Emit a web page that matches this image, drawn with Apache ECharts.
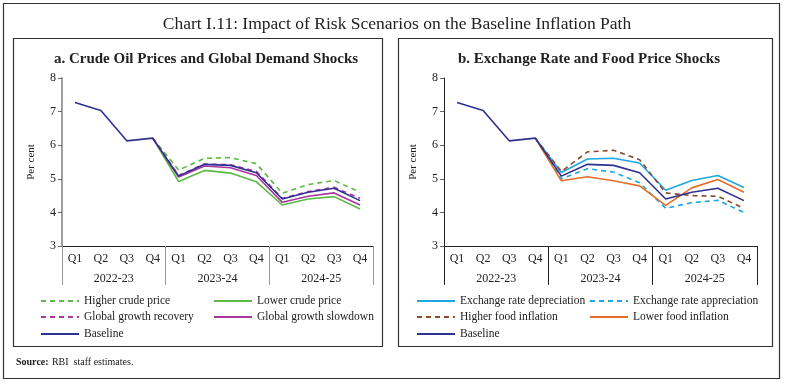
<!DOCTYPE html>
<html><head><meta charset="utf-8">
<script src="https://cdn.jsdelivr.net/npm/echarts@6/dist/echarts.min.js"></script>
<style>html,body{margin:0;padding:0;background:#fff}#c{width:785px;height:385px}</style>
</head><body><div id="c"></div>
<script>
var quarters = ['Q1','Q2','Q3','Q4','Q1','Q2','Q3','Q4','Q1','Q2','Q3','Q4'];
var years = ['2022-23','2023-24','2024-25'];
var yTicks = [3,4,5,6,7,8];

var baseline = [7.27,7.03,6.13,6.21,5.08,5.43,5.40,5.18,4.40,4.60,4.72,4.35];
// Panel a
var higherCrude = [null,null,null,6.21,5.26,5.61,5.63,5.45,4.57,4.83,4.95,4.60];
var lowerCrude = [null,null,null,6.21,4.92,5.25,5.17,4.91,4.22,4.40,4.47,4.10];
var growthRecovery = [null,null,null,6.21,5.10,5.44,5.42,5.22,4.42,4.62,4.75,4.42];
var growthSlowdown = [null,null,null,6.21,5.05,5.38,5.33,5.10,4.30,4.48,4.58,4.22];
// Panel b
var exDepreciation = [null,null,null,6.21,5.19,5.59,5.61,5.47,4.66,4.95,5.10,4.74];
var exAppreciation = [null,null,null,6.21,5.00,5.30,5.20,4.88,4.12,4.29,4.36,4.00];
var higherFood = [null,null,null,6.21,5.22,5.80,5.85,5.57,4.58,4.50,4.48,4.12];
var lowerFood = [null,null,null,6.21,4.94,5.06,4.94,4.79,4.21,4.73,4.98,4.60];

var FONT = 'Liberation Serif';
var C = {base:'#2e3192', green:'#5cb946', mag:'#a8369c', blue:'#1ea6e0', brown:'#8a4b2a', orange:'#e2702a'};

function ser(name, data, color, dashed, idx){
  return {name:name, type:'line', data:data, xAxisIndex:idx*2, yAxisIndex:idx,
    symbol:'none', connectNulls:false, animation:false,
    lineStyle:{color:color, width:1.6, type: dashed?[5,4]:'solid'},
    itemStyle:{color:color}};
}
function xAxes(gridIdx, lineColor){
  return [
    {type:'category', gridIndex:gridIdx, data:quarters, boundaryGap:true,
     axisLine:{lineStyle:{color:'#222', width:1}},
     axisTick:{inside:true, length:4, lineStyle:{color:'#888'}},
     axisLabel:{fontFamily:FONT, fontSize:12, color:'#222', margin:7}},
    {type:'category', gridIndex:gridIdx, data:years, position:'bottom', boundaryGap:true,
     axisLine:{show:false},
     axisTick:{show:true, length:39, lineStyle:{color:lineColor, width:1}},
     axisLabel:{fontFamily:FONT, fontSize:12, color:'#222', margin:27}}
  ];
}
function yAxis(gridIdx, lineColor, lineWidth){
  return {type:'value', gridIndex:gridIdx, min:3, max:8, interval:1,
    splitLine:{show:false},
    axisLine:{show:true, lineStyle:{color:lineColor, width:lineWidth}},
    axisTick:{show:true, length:4, lineStyle:{color:'#666'}},
    axisLabel:{fontFamily:FONT, fontSize:12, color:'#222', margin:6,
      formatter:function(v){return yTicks.indexOf(v)>=0 ? String(v) : '';}},
    name:'Per cent', nameLocation:'middle', nameGap:25,
    nameTextStyle:{fontFamily:FONT, fontSize:11, color:'#222'}};
}
function leg(name, left, top){
  return {show:true, data:[name], left:left, top:top, orient:'horizontal',
    itemWidth:38, itemHeight:10, itemGap:5, selectedMode:false,
    itemStyle:{opacity:0},
    textStyle:{fontFamily:FONT, fontSize:11.5, color:'#222'}, padding:0};
}

var option = {
  animation:false,
  textStyle:{fontFamily:FONT},
  title:[
    {text:'Chart I.11: Impact of Risk Scenarios on the Baseline Inflation Path', left:392, top:10, textAlign:'center',
     textStyle:{fontFamily:FONT, fontSize:17.5, fontWeight:'normal', color:'#222'}},
    {text:'a. Crude Oil Prices and Global Demand Shocks', left:201, top:47, textAlign:'center',
     textStyle:{fontFamily:FONT, fontSize:15, fontWeight:'bold', color:'#222'}},
    {text:'b. Exchange Rate and Food Price Shocks', left:584, top:47, textAlign:'center',
     textStyle:{fontFamily:FONT, fontSize:15, fontWeight:'bold', color:'#222'}}
  ],
  grid:[
    {left:62, top:78, width:311, height:168},
    {left:444, top:78, width:313, height:168}
  ],
  xAxis: xAxes(0,'#999').concat(xAxes(1,'#222')),
  yAxis:[yAxis(0,'#a0a0a0',2), yAxis(1,'#222',1)],
  legend:[
    leg('Higher crude price',40,295), leg('Lower crude price',213,295),
    leg('Global growth recovery',40,311), leg('Global growth slowdown',213,311),
    leg('Baseline',40,328),
    leg('Exchange rate depreciation',416,295), leg('Exchange rate appreciation',589,295),
    leg('Higher food inflation',416,311), leg('Lower food inflation',589,311),
    leg('Baseline',416,328)
  ],
  series:[
    ser('Higher crude price', higherCrude, C.green, true, 0),
    ser('Lower crude price', lowerCrude, C.green, false, 0),
    ser('Global growth slowdown', growthSlowdown, C.mag, false, 0),
    ser('Global growth recovery', growthRecovery, C.mag, true, 0),
    ser('Baseline', baseline, C.base, false, 0),
    ser('Exchange rate depreciation', exDepreciation, C.blue, false, 1),
    ser('Exchange rate appreciation', exAppreciation, C.blue, true, 1),
    ser('Higher food inflation', higherFood, C.brown, true, 1),
    ser('Lower food inflation', lowerFood, C.orange, false, 1),
    ser('Baseline', baseline, C.base, false, 1)
  ],
  graphic:[
    {type:'rect', shape:{x:3.5,y:3.5,width:776,height:375}, style:{fill:null, stroke:'#333', lineWidth:1.2}, silent:true},
    {type:'rect', shape:{x:13.5,y:38.5,width:369,height:308}, style:{fill:null, stroke:'#333', lineWidth:1.2}, silent:true},
    {type:'rect', shape:{x:398.5,y:38.5,width:374,height:308}, style:{fill:null, stroke:'#333', lineWidth:1.2}, silent:true},
    {type:'text', left:16, top:356, style:{rich:{b:{fontFamily:FONT,fontSize:10,fontWeight:'bold',fill:'#222'},n:{fontFamily:FONT,fontSize:10,fill:'#222'}}, text:'{b|Source:} {n|RBI  staff estimates.}'}}
  ]
};
var chart = echarts.init(document.getElementById('c'), null, {renderer:'canvas'});
chart.setOption(option);
</script></body></html>
